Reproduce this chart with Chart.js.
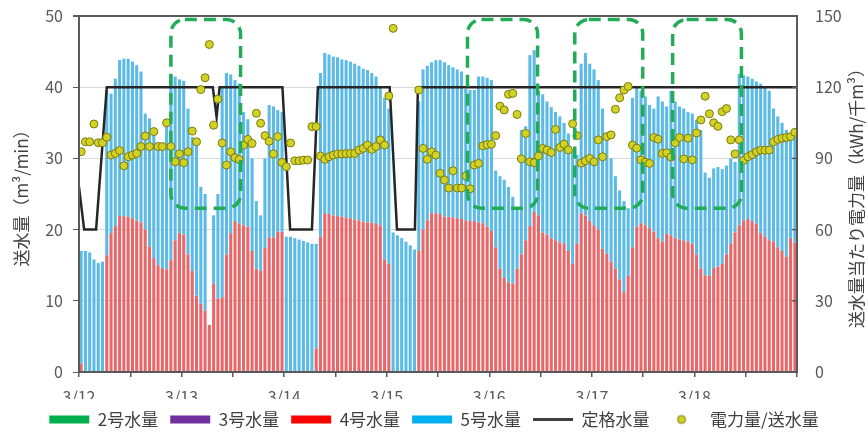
<!DOCTYPE html>
<html lang="ja">
<head>
<meta charset="utf-8">
<title>送水量と電力量</title>
<script src="https://cdn.jsdelivr.net/npm/chart.js@4.4.1/dist/chart.umd.min.js"></script>
<style>
  html, body { margin: 0; padding: 0; background: #fff; }
  #wrap { width: 868px; height: 438px; }
</style>
</head>
<body>
<div id="wrap"><canvas id="flowChart" width="868" height="438"></canvas></div>
<script>
// ========== データ（1時間ごと、3/12 0時〜3/18 24時） ==========
const dayLabels = ["3/12", "3/13", "3/14", "3/15", "3/16", "3/17", "3/18"];

// 2号・3号はこの期間運転なし
const unit2Flow = [];
const unit3Flow = [];

// 4号水量 (m3/min)
const unit4Flow = [
  1.2, 0, 0, 0, 0, 0, 16.4, 19.5, 20.5, 21.9, 21.9, 21.8, 21.6, 21.3, 21.0, 20.0, 17.6, 16.0, 15.0, 14.6, 14.4, 15.7, 18.5, 19.5,
  19.3, 16.5, 14.2, 10.7, 9.6, 8.6, 6.6, 12.4, 10.3, 10.5, 16.5, 19.5, 21.2, 20.8, 20.6, 20.4, 17.0, 14.5, 14.2, 17.4, 18.9, 18.9, 19.7, 19.7,
  0, 0, 0, 0, 0, 0, 0, 3.3, 19.0, 22.3, 22.2, 22.0, 21.9, 21.8, 21.7, 21.6, 21.4, 21.3, 21.1, 21.0, 21.0, 20.8, 20.6, 15.8,
  15.2, 0, 0, 0, 0, 0, 0, 17.0, 20.0, 21.3, 22.3, 22.3, 22.2, 21.8, 21.8, 21.7, 21.6, 21.5, 21.3, 21.2, 21.2, 21.0, 20.9, 20.4,
  19.8, 17.5, 14.5, 13.2, 12.6, 12.4, 14.5, 16.5, 18.5, 20.5, 22.5, 22.0, 19.6, 19.3, 18.8, 18.5, 18.2, 18.0, 17.0, 15.2, 18.0, 22.3, 22.0, 21.2,
  20.6, 20.0, 17.3, 16.6, 15.5, 14.5, 13.0, 11.2, 13.5, 17.5, 20.4, 20.9, 20.6, 20.2, 19.7, 18.8, 18.3, 19.4, 19.2, 18.8, 18.6, 18.5, 18.3, 18.0,
  16.5, 14.5, 13.6, 13.5, 14.6, 14.8, 15.2, 16.5, 18.0, 19.6, 20.6, 21.3, 21.5, 21.2, 20.8, 19.5, 19.0, 18.5, 18.3, 17.5, 17.0, 16.2, 18.8, 18.2
];

// 5号水量 (m3/min)
const unit5Flow = [
  15.8, 17.0, 16.8, 15.8, 15.3, 15.5, 23.2, 19.6, 20.7, 21.9, 22.1, 22.2, 22.0, 21.8, 21.2, 16.3, 18.0, 17.5, 17.0, 17.4, 21.0, 26.0, 23.0, 21.6,
  21.6, 20.5, 18.8, 21.3, 16.4, 16.4, 0, 9.6, 14.7, 29.5, 25.5, 22.3, 19.8, 19.7, 15.9, 15.1, 13.0, 9.5, 7.8, 12.6, 18.6, 18.4, 17.1, 16.8,
  19.0, 19.0, 18.8, 18.6, 18.4, 18.2, 18.0, 14.7, 23.0, 22.5, 22.4, 22.3, 22.3, 22.1, 22.1, 22.0, 21.9, 21.7, 21.5, 21.4, 21.0, 20.7, 19.4, 22.7,
  21.8, 19.6, 19.2, 18.8, 18.3, 17.8, 17.2, 21.0, 22.5, 21.7, 21.2, 21.5, 21.6, 21.7, 21.3, 21.1, 20.9, 20.7, 18.5, 18.4, 18.4, 20.5, 20.6, 20.9,
  21.2, 10.8, 13.0, 13.8, 13.4, 12.2, 8.5, 17.5, 16.0, 24.0, 22.7, 17.5, 19.4, 18.7, 18.4, 18.0, 17.7, 17.0, 16.5, 15.8, 12.5, 21.0, 22.8, 22.1,
  21.9, 21.0, 19.7, 16.4, 14.5, 13.0, 12.5, 12.8, 9.5, 21.0, 19.6, 18.6, 18.1, 17.3, 17.3, 19.9, 19.7, 17.9, 20.3, 19.2, 18.7, 18.5, 18.2, 18.3,
  18.9, 19.5, 14.4, 13.8, 14.0, 14.0, 13.3, 12.5, 12.0, 9.9, 21.3, 20.4, 20.0, 20.0, 20.0, 21.0, 21.0, 21.0, 18.7, 18.4, 18.0, 17.8, 14.7, 14.8
];

// 定格水量（切替点の時刻[h]と値）
const ratedHours = [0, 1.2, 4, 6.5, 31.3, 32.2, 32.9, 47.6, 49.4, 54.5, 55.9, 72.7, 74.4, 78.6, 79.3, 168];
const ratedFlow  = [26, 20, 20, 40, 40, 35.8, 40, 40, 20, 20, 40, 40, 20, 20, 40, 40];

// 電力量/送水量 (kWh/千m3)
const powerPerFlow = [
  92.8, 97, 97, 104.5, 96.6, 96.6, 98.9, 91.4, 92.1, 93.3, 86.9, 90.7, 91.4, 92.1, 95, 99.4, 95, 101.3, 95, 95, 105, 95, 88.6, 91.9,
  88.2, 92.8, 101.5, 97, 119, 124, 138, 104, 115, 96.5, 87.2, 92.8, 90.3, 89.5, 95.6, 98, 96.3, 109, 104.8, 99.6, 97.2, 91.9, 99.2, 88.3,
  86.5, 96.5, 89, 89, 89.3, 89.3, 103.4, 103.4, 91, 89.6, 90.7, 91.4, 91.9, 91.9, 92, 92.1, 92.1, 93.5, 94.2, 95.6, 93.8, 95, 97.8, 95.6,
  116.3, 144.8, null, null, null, null, null, 118.8, 94.2, 89.6, 92.8, 91.4, 83.7, 80.9, 77.5, 84.8, 77.5, 77.5, 82.6, 77.2, 87.2, 87.9, 95.3, 95.8,
  96, 99.6, 112, 110.4, 117, 117.4, 108.5, 89.8, 100.5, 88.6, 88.2, 91, 94.2, 93.5, 92.5, 102.2, 94.6, 96, 93.6, 104.6, 99.6, 88, 89, 90,
  88.6, 97.8, 90.7, 99.2, 99.9, 110.7, 115.5, 118.8, 120.3, 95.6, 94.3, 89.4, 88.4, 87.9, 98.8, 98.1, 92.1, 92.4, 90.6, 96.6, 98.8, 89.8, 98.5, 89.4,
  100.7, 106.2, 116.2, 108.8, 105, 103.5, 109.7, 111, 97.8, 91.9, 97.8, 89.2, 90.7, 91.6, 92.8, 93.5, 93.4, 93.5, 97, 98, 98.5, 98.8, 99.2, 101
];

// 注目期間（緑の破線枠）: 開始・終了時刻[h]、送水量の範囲
const boxStartHour = [21.5, 90.9, 116, 138.9];
const boxEndHour   = [37.8, 107.3, 131.9, 155];
const boxFlowRange = [23, 49.5];

// ========== 描画 ==========
const FONT = '"Noto Sans CJK JP", "Noto Sans", sans-serif';
const FRAME = "#5a5a5a";
Chart.defaults.font.family = FONT;
Chart.defaults.font.size = 16;
Chart.defaults.color = "#595959";

const toPoints = arr => arr.map((v, i) => ({ x: i + 0.5, y: v })).filter(p => p.y !== null);

// 凡例用の丸印
const dotIcon = document.createElement("canvas");
dotIcon.width = 12; dotIcon.height = 12;
(function () {
  const c = dotIcon.getContext("2d");
  c.beginPath(); c.arc(6, 6, 4, 0, Math.PI * 2);
  c.fillStyle = "#d2d225"; c.fill();
  c.lineWidth = 1; c.strokeStyle = "#7a7a10"; c.stroke();
})();

const overlay = {
  id: "overlay",
  afterDatasetsDraw(chart) {
    const { ctx, scales: { x, y } } = chart;
    ctx.save();
    ctx.strokeStyle = "#22ac58";
    ctx.lineWidth = 3.5;
    ctx.setLineDash([12, 7]);
    boxStartHour.forEach((s, i) => {
      const l = x.getPixelForValue(s), r = x.getPixelForValue(boxEndHour[i]);
      const t = y.getPixelForValue(boxFlowRange[1]), b = y.getPixelForValue(boxFlowRange[0]);
      ctx.beginPath();
      ctx.roundRect(l, t, r - l, b - t, 14);
      ctx.stroke();
    });
    ctx.restore();
  },
  afterDraw(chart) {
    const { ctx, chartArea: a, scales: { y2 } } = chart;
    ctx.save();
    ctx.setLineDash([]);
    // 枠
    ctx.strokeStyle = FRAME;
    ctx.lineWidth = 2;
    ctx.beginPath();
    ctx.moveTo(a.left, a.top); ctx.lineTo(a.right, a.top);
    ctx.lineTo(a.right, a.bottom); ctx.lineTo(a.left, a.bottom);
    ctx.closePath();
    ctx.stroke();
    // 右軸の目盛（内向き）
    ctx.lineWidth = 1.5;
    y2.ticks.forEach(t => {
      const py = y2.getPixelForValue(t.value);
      ctx.beginPath(); ctx.moveTo(a.right - 5, py); ctx.lineTo(a.right, py); ctx.stroke();
    });
    // 軸タイトル
    ctx.fillStyle = "#404040";
    ctx.font = "17px " + FONT;
    ctx.textAlign = "center";
    ctx.textBaseline = "middle";
    const cy = (a.top + a.bottom) / 2;
    ctx.save(); ctx.translate(22, cy); ctx.rotate(-Math.PI / 2);
    ctx.fillText("送水量（m³/min）", 0, 0); ctx.restore();
    ctx.save(); ctx.translate(857, cy); ctx.rotate(-Math.PI / 2);
    ctx.fillText("送水量当たり電力量（kWh/千m³）", 0, 0); ctx.restore();
    ctx.restore();
  }
};

new Chart(document.getElementById("flowChart"), {
  type: "bar",
  data: {
    datasets: [
      { label: "2号水量", data: toPoints(unit2Flow), backgroundColor: "#00b050", legendColor: "#00b050", order: 2 },
      { label: "3号水量", data: toPoints(unit3Flow), backgroundColor: "#7030a0", legendColor: "#7030a0", order: 2 },
      { label: "4号水量", data: toPoints(unit4Flow), backgroundColor: "#e8686a", legendColor: "#ff0000", order: 2 },
      { label: "5号水量", data: toPoints(unit5Flow), backgroundColor: "#5cbbe6", legendColor: "#00b0f0", order: 2 },
      {
        type: "line", label: "定格水量", order: 1,
        data: ratedHours.map((h, i) => ({ x: h, y: ratedFlow[i] })),
        borderColor: "#262626", borderWidth: 2.5, pointRadius: 0, tension: 0, legendColor: "#404040"
      },
      {
        type: "scatter", label: "電力量/送水量", order: 0, yAxisID: "y2",
        data: toPoints(powerPerFlow),
        backgroundColor: "#d2d225", borderColor: "#7a7a10", borderWidth: 1, pointRadius: 4, legendColor: "#d2d225"
      }
    ]
  },
  options: {
    responsive: false,
    animation: false,
    devicePixelRatio: 1,
    categoryPercentage: 0.72,
    barPercentage: 1,
    layout: { padding: { top: 16, left: 0, right: 0, bottom: 0 } },
    plugins: {
      tooltip: { enabled: false },
      legend: {
        position: "bottom",
        labels: {
          usePointStyle: true,
          pointStyleWidth: 40,
          boxHeight: 8,
          padding: 12,
          color: "#404040",
          font: { size: 17 },
          generateLabels: chart => chart.data.datasets.map((ds, i) => ({
            text: ds.label,
            fillStyle: ds.legendColor,
            strokeStyle: ds.legendColor,
            fontColor: "#404040",
            lineWidth: ds.type === "line" ? 3 : 0,
            pointStyle: ds.type === "line" ? "line" : ds.type === "scatter" ? dotIcon : "rect",
            hidden: false,
            datasetIndex: i
          }))
        }
      }
    },
    scales: {
      x: {
        type: "linear",
        min: 0, max: 168,
        offset: false,
        stacked: true,
        afterFit: s => { s.height = 27; },
        border: { display: true, color: FRAME, width: 2 },
        grid: { offset: false, drawOnChartArea: false, tickLength: 5, color: FRAME, lineWidth: 1.5 },
        ticks: {
          stepSize: 12, autoSkip: false, maxRotation: 0, padding: 10,
          callback: v => (v % 24 === 0 && v < 168) ? dayLabels[v / 24] : ""
        }
      },
      y: {
        position: "left",
        min: 0, max: 50,
        stacked: true,
        afterFit: s => { s.width = 79; s.paddingTop = 10; s.paddingBottom = 10; },
        border: { display: true, color: FRAME, width: 2 },
        grid: {
          color: c => c.tick.value === 50 ? FRAME : c.tick.value === 0 ? "rgba(0,0,0,0)" : "#d9d9d9",
          lineWidth: c => c.tick.value === 50 ? 2 : 1,
          tickColor: FRAME, tickLength: 6
        },
        ticks: { stepSize: 10, padding: 10 }
      },
      y2: {
        position: "right",
        min: 0, max: 150,
        afterFit: s => { s.width = 71; s.paddingTop = 10; s.paddingBottom = 10; },
        border: { display: true, color: FRAME, width: 2 },
        grid: { drawOnChartArea: false, drawTicks: false },
        ticks: { stepSize: 30, padding: 18 }
      }
    }
  },
  plugins: [overlay]
});
</script>
</body>
</html>
